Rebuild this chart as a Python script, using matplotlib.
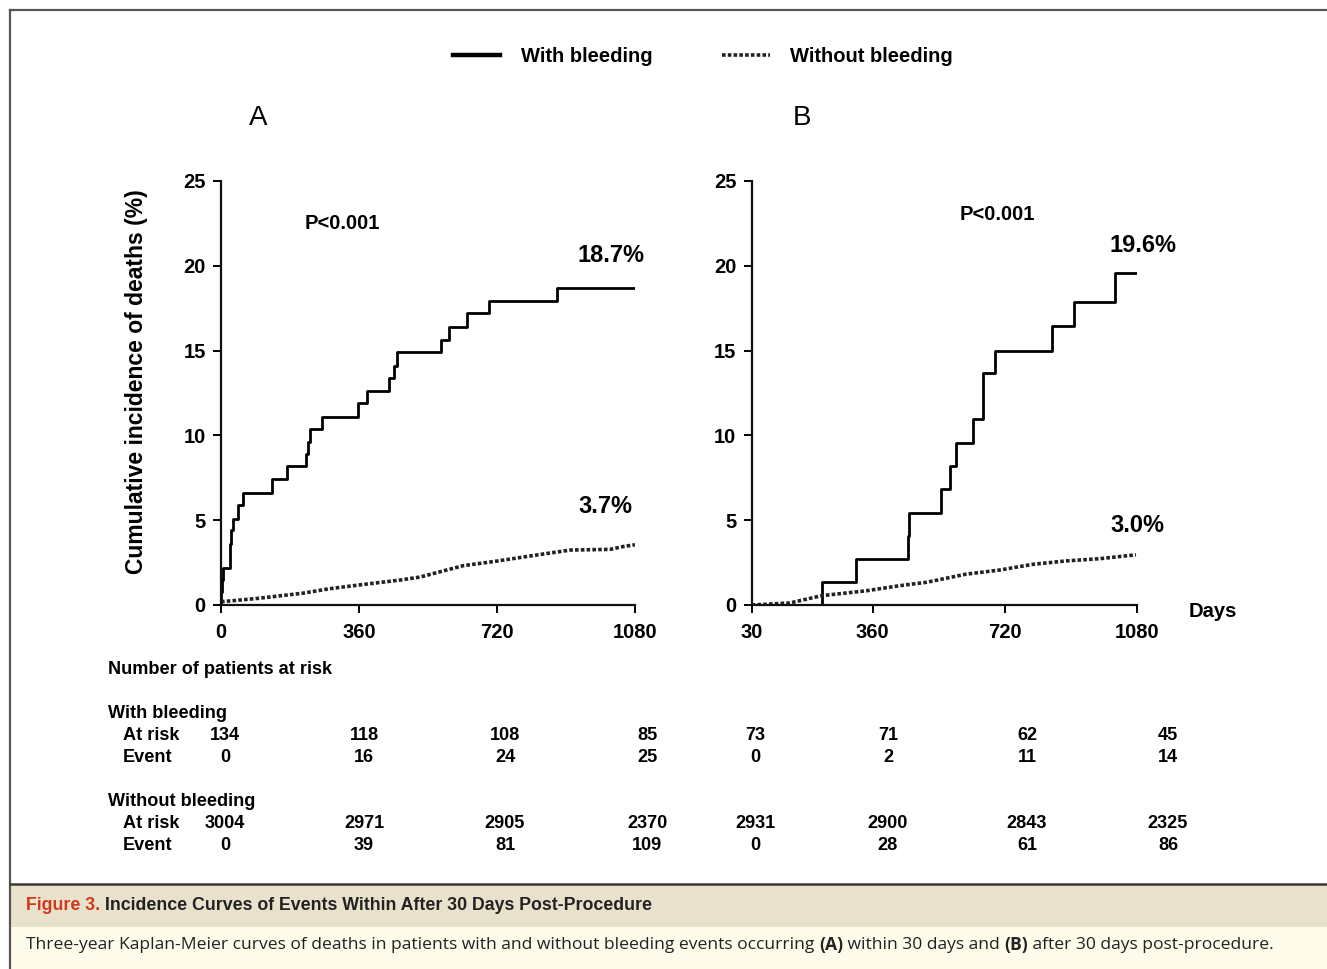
import numpy as np
import matplotlib.pyplot as plt
from matplotlib.lines import Line2D
from matplotlib.patches import Rectangle

W, H = 1327, 969

# panel A: deaths within 30 days (days, cumulative %)
a_bleed_t = [0, 1, 3, 6, 23, 24, 25, 32, 45, 57, 132, 171, 221, 226, 232, 264, 358, 380, 438, 452, 458, 573, 594, 641, 700, 876, 1080]
a_bleed_v = [0, 0.75, 1.5, 2.2, 2.9, 3.6, 4.4, 5.1, 5.9, 6.6, 7.4, 8.2, 8.9, 9.6, 10.4, 11.1, 11.9, 12.6, 13.4, 14.1, 14.9, 15.6, 16.4, 17.2, 17.9, 18.7, 18.7]
a_nobleed_t = [0, 30, 100, 215, 280, 360, 467, 520, 563, 632, 720, 824, 911, 1015, 1050, 1080]
a_nobleed_v = [0.2, 0.25, 0.4, 0.7, 0.95, 1.18, 1.47, 1.65, 1.91, 2.32, 2.59, 2.95, 3.24, 3.28, 3.45, 3.55]

# panel B: deaths after 30 days
b_bleed_t = [30, 221, 314, 455, 459, 545, 570, 586, 633, 661, 693, 849, 909, 1021, 1078]
b_bleed_v = [0, 1.34, 2.7, 4.04, 5.45, 6.82, 8.19, 9.57, 10.94, 13.69, 15.0, 16.47, 17.86, 19.6, 19.6]
b_nobleed_t = [30, 134, 221, 343, 434, 507, 615, 706, 797, 888, 979, 1078]
b_nobleed_v = [0, 0.12, 0.55, 0.84, 1.14, 1.34, 1.82, 2.06, 2.4, 2.6, 2.73, 2.96]

a_ticks = [0, 360, 720, 1080]
b_ticks = [30, 360, 720, 1080]
y_ticks = [0, 5, 10, 15, 20, 25]

# number at risk table
bleed_risk = ["134", "118", "108", "85", "73", "71", "62", "45"]
bleed_event = ["0", "16", "24", "25", "0", "2", "11", "14"]
nobleed_risk = ["3004", "2971", "2905", "2370", "2931", "2900", "2843", "2325"]
nobleed_event = ["0", "39", "81", "109", "0", "28", "61", "86"]

plt.rcParams['font.family'] = ['Liberation Sans', 'DejaVu Sans']

fig = plt.figure(figsize=(W / 100, H / 100), dpi=100)

def fx(x):
    return x / W

def fy(y):
    return 1 - y / H

def ftext(x, y, s, **kw):
    kw.setdefault('va', 'center')
    return fig.text(fx(x), fy(y), s, **kw)

# frame lines and caption band
fig.add_artist(Line2D([fx(10), 1], [fy(10), fy(10)], color='#555555', lw=1.6))
fig.add_artist(Line2D([fx(10), fx(10)], [fy(10), 0], color='#555555', lw=1.6))
fig.add_artist(Rectangle((fx(10), fy(927)), 1, fy(885) - fy(927), color='#e8e1cb', lw=0))
fig.add_artist(Rectangle((fx(10), 0), 1, fy(927), color='#fffbeb', lw=0))
fig.add_artist(Line2D([fx(10), 1], [fy(884), fy(884)], color='#3a3a3a', lw=1.8))

def setup(ax, xlim, xticks):
    ax.set_xlim(*xlim)
    ax.set_ylim(0, 25)
    for s in ['top', 'right']:
        ax.spines[s].set_visible(False)
    for s in ['left', 'bottom']:
        ax.spines[s].set_linewidth(1.6)
        ax.spines[s].set_color('#111111')
    ax.set_xticks(xticks)
    ax.set_yticks(y_ticks)
    ax.tick_params(width=1.4, length=6, labelsize=14.5, pad=5)
    ax.tick_params(axis='x', pad=7)
    for lab in ax.get_xticklabels() + ax.get_yticklabels():
        lab.set_fontweight('bold')
    ax.patch.set_alpha(0)

dot = (0, (1.0, 0.6))

axA = fig.add_axes([fx(221), fy(605), fx(635) - fx(221), fy(181) - fy(605)])
setup(axA, (0, 1080), a_ticks)
axA.step(a_bleed_t, a_bleed_v, where='post', color='black', lw=2.0)
axA.plot(a_nobleed_t, a_nobleed_v, color='#222222', lw=2.6, linestyle=dot)
axA.text(316, 22.5, "P<0.001", ha='center', va='center', fontsize=14.5, fontweight='bold')
axA.text(1017, 20.6, "18.7%", ha='center', va='center', fontsize=17, fontweight='bold')
axA.text(1002, 5.8, "3.7%", ha='center', va='center', fontsize=17, fontweight='bold')

axB = fig.add_axes([fx(751.7), fy(605), fx(1136.7) - fx(751.7), fy(181) - fy(605)])
setup(axB, (30, 1080), b_ticks)
axB.step(b_bleed_t, b_bleed_v, where='post', color='black', lw=2.0)
axB.plot(b_nobleed_t, b_nobleed_v, color='#222222', lw=2.6, linestyle=dot)
axB.text(701, 23.0, "P<0.001", ha='center', va='center', fontsize=14.5, fontweight='bold')
axB.text(1098, 21.2, "19.6%", ha='center', va='center', fontsize=17, fontweight='bold')
axB.text(1082, 4.7, "3.0%", ha='center', va='center', fontsize=17, fontweight='bold')
axB.text(1221, -0.4, "Days", ha='left', va='center', fontsize=14.5, fontweight='bold', clip_on=False)

# y label and panel letters
ftext(137, 382, "Cumulative incidence of deaths (%)", rotation=90, ha='center',
      fontsize=16.5, fontweight='bold')
ftext(258, 118, "A", ha='center', fontsize=20)
ftext(802, 118, "B", ha='center', fontsize=20)

# legend
fig.add_artist(Line2D([fx(453), fx(500)], [fy(55), fy(55)], color='black', lw=3.2))
fig.add_artist(Line2D([fx(722), fx(770)], [fy(55), fy(55)], color='#222222', lw=2.6, linestyle=dot))
ftext(521, 56, "With bleeding", ha='left', fontsize=14.5, fontweight='bold')
ftext(790, 56, "Without bleeding", ha='left', fontsize=14.5, fontweight='bold')

# number at risk table
cols = [225, 364, 505, 647, 755, 888, 1027, 1168]
tk = dict(fontsize=13.1, fontweight='bold')
ftext(108, 669, "Number of patients at risk", ha='left', **tk)
ftext(108, 713, "With bleeding", ha='left', **tk)
ftext(123, 735, "At risk", ha='left', **tk)
ftext(123, 757, "Event", ha='left', **tk)
ftext(108, 801, "Without bleeding", ha='left', **tk)
ftext(123, 823, "At risk", ha='left', **tk)
ftext(123, 846, "Event", ha='left', **tk)
for i, c in enumerate(cols):
    ftext(c, 735, bleed_risk[i], ha='center', **tk)
    ftext(c, 757, bleed_event[i], ha='center', **tk)
    ftext(c, 823, nobleed_risk[i], ha='center', **tk)
    ftext(c, 846, nobleed_event[i], ha='center', **tk)

# caption, written piece by piece
renderer = fig.canvas.get_renderer()

def run(x, y, pieces):
    for s, kw in pieces:
        t = ftext(x, y, s, ha='left', **kw)
        x += t.get_window_extent(renderer).width

cap = dict(fontsize=12.6, color='#222222', family='Open Sans')
capb = dict(fontsize=12.6, color='#222222', family='Open Sans', fontweight='bold')
run(26, 905, [("Figure 3. ", dict(fontsize=12.8, fontweight='bold', color='#d2381e')),
              ("Incidence Curves of Events Within After 30 Days Post-Procedure",
               dict(fontsize=12.8, fontweight='bold', color='#222222'))])
run(26, 945, [("Three-year Kaplan-Meier curves of deaths in patients with and without bleeding events occurring ", cap),
              ("(A)", capb), (" within 30 days and ", cap), ("(B)", capb),
              (" after 30 days post-procedure.", cap)])

fig.savefig("out.png", dpi=100)
